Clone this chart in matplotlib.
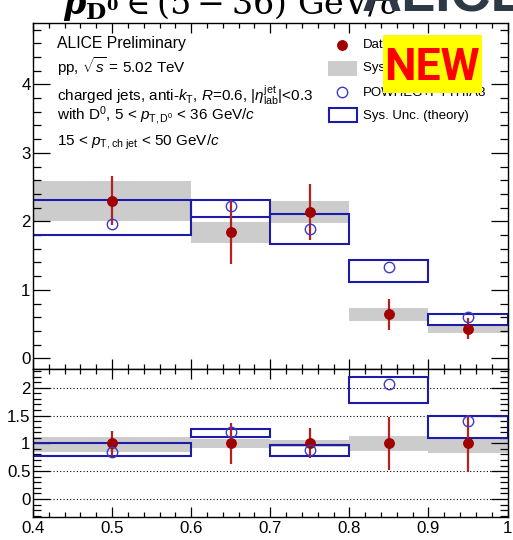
import matplotlib
matplotlib.use('Agg')
import matplotlib.pyplot as plt
from matplotlib.patches import Rectangle
from matplotlib.lines import Line2D
from matplotlib.ticker import MultipleLocator, FormatStrFormatter, FuncFormatter

plt.rcParams['font.family'] = ['Liberation Sans', 'DejaVu Sans']
plt.rcParams['mathtext.fontset'] = 'custom'
plt.rcParams['mathtext.rm'] = 'Liberation Sans'
plt.rcParams['mathtext.it'] = 'Liberation Sans:italic'
plt.rcParams['mathtext.bf'] = 'Liberation Sans:bold'

# bins in z
bin_lo = [0.4, 0.6, 0.7, 0.8, 0.9]
bin_hi = [0.6, 0.7, 0.8, 0.9, 1.0]
bin_c = [0.5, 0.65, 0.75, 0.85, 0.95]

# top panel: data and POWHEG+PYTHIA8
data = [2.30, 1.84, 2.14, 0.64, 0.43]
data_stat = [0.36, 0.47, 0.41, 0.22, 0.155]
data_sys = [0.29, 0.15, 0.16, 0.09, 0.06]
theo = [1.96, 2.22, 1.89, 1.34, 0.61]
theo_lo = [1.80, 2.06, 1.67, 1.11, 0.48]
theo_hi = [2.31, 2.31, 2.10, 1.43, 0.65]

# bottom panel: ratios to data
ratio_data = [1.0, 1.0, 1.0, 1.0, 1.0]
ratio_stat = [0.22, 0.365, 0.27, 0.48, 0.515]
ratio_sys_lo = [0.85, 0.91, 0.93, 0.87, 0.83]
ratio_sys_hi = [1.11, 1.07, 1.06, 1.13, 1.09]
ratio_theo = [0.85, 1.21, 0.88, 2.07, 1.40]
ratio_theo_lo = [0.77, 1.11, 0.77, 1.72, 1.10]
ratio_theo_hi = [1.00, 1.25, 0.97, 2.20, 1.50]

W, H = 513, 540
red = '#a00000'
red_err = '#b82020'
blue = '#1c1ca8'
blue_c = '#3a3acc'
grey = '#cccccc'

fig = plt.figure(figsize=(W / 100, H / 100), dpi=100)


def fx(px):
    return px / W


def fy(py):
    return 1 - py / H


ax1 = fig.add_axes([fx(33), fy(369), fx(507.5) - fx(33), fy(22.7) - fy(369)])
ax2 = fig.add_axes([fx(33), fy(516.7), fx(507.5) - fx(33), fy(369) - fy(516.7)])

for ax in (ax1, ax2):
    ax.set_xlim(0.4, 1.0)
    ax.xaxis.set_major_locator(MultipleLocator(0.1))
    ax.xaxis.set_minor_locator(MultipleLocator(0.02))
    ax.tick_params(which='both', direction='in', top=True, right=True, width=0.9, labelsize=12.2)
    ax.tick_params(axis='y', which='major', length=12.2, pad=1.8)
    ax.tick_params(axis='y', which='minor', length=6)
    ax.tick_params(axis='x', which='major', length=7)
    ax.tick_params(axis='x', which='minor', length=3.6)
    for s in ax.spines.values():
        s.set_linewidth(1.0)

ax1.set_ylim(-0.156, 4.90)
ax1.yaxis.set_major_locator(MultipleLocator(1))
ax1.yaxis.set_minor_locator(MultipleLocator(0.2))
ax1.yaxis.set_major_formatter(FormatStrFormatter('%g'))
ax1.tick_params(axis='x', labelbottom=False)

ax2.set_ylim(-0.318, 2.336)
ax2.yaxis.set_major_locator(MultipleLocator(0.5))
ax2.yaxis.set_minor_locator(MultipleLocator(0.1))
ax2.yaxis.set_major_formatter(FormatStrFormatter('%g'))
ax2.xaxis.set_major_formatter(FuncFormatter(lambda v, p: '%g' % round(v, 2)))
ax2.tick_params(axis='x', pad=3)

# top panel
for i in range(5):
    ax1.add_patch(Rectangle((bin_lo[i], data[i] - data_sys[i]), bin_hi[i] - bin_lo[i],
                            2 * data_sys[i], facecolor=grey, edgecolor='none', zorder=1))
for i in range(5):
    ax1.add_patch(Rectangle((bin_lo[i], theo_lo[i]), bin_hi[i] - bin_lo[i],
                            theo_hi[i] - theo_lo[i], facecolor='none', edgecolor=blue,
                            linewidth=1.5, zorder=2))
ax1.errorbar(bin_c, data, yerr=data_stat, fmt='none', ecolor=red_err, elinewidth=1.6, capsize=0, zorder=3)
ax1.plot(bin_c, data, 'o', color=red, markersize=6.8, zorder=4)
ax1.plot(bin_c, theo, 'o', markerfacecolor='none', markeredgecolor=blue_c, markersize=7.5,
         markeredgewidth=1.0, zorder=5)

# bottom panel
for v in [0, 0.5, 1, 1.5, 2]:
    ax2.axhline(v, color='black', linestyle=(0, (1, 2)), linewidth=0.8, zorder=0)
for i in range(5):
    ax2.add_patch(Rectangle((bin_lo[i], ratio_sys_lo[i]), bin_hi[i] - bin_lo[i],
                            ratio_sys_hi[i] - ratio_sys_lo[i], facecolor=grey, edgecolor='none', zorder=1))
for i in range(5):
    ax2.add_patch(Rectangle((bin_lo[i], ratio_theo_lo[i]), bin_hi[i] - bin_lo[i],
                            ratio_theo_hi[i] - ratio_theo_lo[i], facecolor='none', edgecolor=blue,
                            linewidth=1.5, zorder=2))
ax2.errorbar(bin_c, ratio_data, yerr=ratio_stat, fmt='none', ecolor=red_err, elinewidth=1.6, capsize=0, zorder=3)
ax2.plot(bin_c, ratio_data, 'o', color=red, markersize=6.8, zorder=4)
ax2.plot(bin_c, ratio_theo, 'o', markerfacecolor='none', markeredgecolor=blue_c, markersize=7.5,
         markeredgewidth=1.0, zorder=5)

# text block
fs = 11
fig.text(fx(57), fy(48.3), 'ALICE Preliminary', fontsize=11.3, va='baseline')
fig.text(fx(57), fy(72.7), r'pp, $\sqrt{s}$ = 5.02 TeV', fontsize=fs, va='baseline')
fig.text(fx(57), fy(101.7), r'charged jets, anti-$k_{\rm T}$, $R$=0.6, $|\eta^{\rm jet}_{\rm lab}|$<0.3',
         fontsize=fs, va='baseline')
fig.text(fx(57), fy(120.5), r'with D$^{0}$, 5 < $p_{\rm T,D^{0}}$ < 36 GeV/$c$', fontsize=fs, va='baseline')
fig.text(fx(57), fy(146), r'15 < $p_{\rm T,ch\ jet}$ < 50 GeV/$c$', fontsize=fs, va='baseline')

# legend
lfs = 9.5
fig.add_artist(Line2D([fx(342)], [fy(45)], marker='o', color=red, markersize=6.8, transform=fig.transFigure))
fig.text(fx(363), fy(45), 'Data', fontsize=lfs, va='center')
fig.add_artist(Rectangle((fx(328), fy(76)), fx(357) - fx(328), fy(61) - fy(76), facecolor=grey,
                         edgecolor='none', transform=fig.transFigure))
fig.text(fx(363), fy(68.5), 'Sys. Unc. (data)', fontsize=lfs, va='center')
fig.add_artist(Line2D([fx(342)], [fy(92)], marker='o', markerfacecolor='none', markeredgecolor=blue_c,
                      markersize=7.5, markeredgewidth=1.0, transform=fig.transFigure))
fig.text(fx(363), fy(93), 'POWHEG+PYTHIA8', fontsize=lfs, va='center')
fig.add_artist(Rectangle((fx(328.5), fy(121.5)), fx(357) - fx(328.5), fy(107.5) - fy(121.5), facecolor='none',
                         edgecolor=blue, linewidth=1.5, transform=fig.transFigure))
fig.text(fx(363), fy(116), 'Sys. Unc. (theory)', fontsize=lfs, va='center')

# NEW sticker
fig.add_artist(Rectangle((fx(382.7), fy(93.3)), fx(481.7) - fx(382.7), fy(35) - fy(93.3),
                         facecolor='#ffff00', edgecolor='none', transform=fig.transFigure, zorder=10))
fig.text(fx(432), fy(68.5), 'NEW', fontsize=32, fontweight='bold', color='#ff0000', family='Roboto',
         ha='center', va='center', zorder=11)

# clipped slide title and logo above the plot
fig.text(fx(62), fy(14), r'$\mathbfit{p}_{\mathbf{D}^{\mathbf{0}}} \in (5-36)\ \mathrm{GeV}/c$',
         fontsize=24, math_fontfamily='dejavuserif', va='baseline')
fig.text(fx(362), fy(11), 'ALICE', fontsize=40, fontweight='bold', color='#2d3944', va='baseline')

fig.savefig('out.png', dpi=100)
